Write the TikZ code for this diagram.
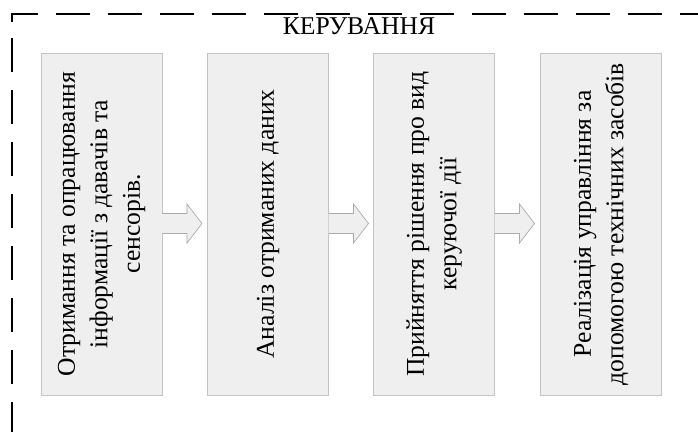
\documentclass[tikz,border=0pt]{standalone}
\usepackage{fontspec}
\setmainfont{Liberation Serif}
\usetikzlibrary{calc}

\definecolor{boxfill}{HTML}{EFEFEF}
\definecolor{boxline}{HTML}{C4C4C4}
\definecolor{boxshade}{HTML}{A6A6A6}
\definecolor{arrowline}{HTML}{ABABAB}

\tikzset{
  frameline/.style={line width=2pt, dash pattern=on 34pt off 18pt, black},
  stagebox/.style={rectangle, fill=boxfill, draw=boxline, line width=0.7pt,
    minimum width=121pt, minimum height=342pt, inner sep=0pt, outer sep=0pt},
  stagetext/.style={rotate=90, align=center, inner sep=0pt,
    font=\fontsize{25.6}{32.5}\selectfont},
  titletext/.style={font=\fontsize{25.6}{30}\selectfont, inner sep=0pt},
  arrowbody/.style={fill=boxfill},
  arrowedge/.style={draw=arrowline, line width=0.7pt, line join=miter},
}

% block arrow leaving the right side of a stage box
\newcommand{\stagearrow}[1]{%
  \fill[arrowbody] ($(#1.east)+(0,-10.5)$) -- ($(#1.east)+(25,-10.5)$)
    -- ($(#1.east)+(25,-20)$) -- ($(#1.east)+(40,-0.5)$)
    -- ($(#1.east)+(25,19)$) -- ($(#1.east)+(25,9.5)$)
    -- ($(#1.east)+(0,9.5)$) -- cycle;
  \draw[arrowedge] ($(#1.east)+(0,-10.5)$) -- ($(#1.east)+(25,-10.5)$)
    -- ($(#1.east)+(25,-20)$) -- ($(#1.east)+(40,-0.5)$)
    -- ($(#1.east)+(25,19)$) -- ($(#1.east)+(25,9.5)$)
    -- ($(#1.east)+(0,9.5)$);
}

\begin{document}
\begin{tikzpicture}[x=1pt, y=-1pt]
  \useasboundingbox (0,0) rectangle (698,431);
  \clip (0,0) rectangle (698,431);

  % outer dashed frame (only its top and left sides fall inside the page)
  \draw[frameline] (12,21.5) |- (720,13.5);
  \draw[frameline] (12,38) -- (12,460);

  \node[titletext, anchor=base] (title) at (359,34.5) {КЕРУВАННЯ};

  % stage boxes
  \foreach \name/\cx in {b1/101.5, b2/268, b3/434, b4/601} {
    \fill[boxshade] (\cx-60.5,394) rectangle (\cx+60.5,396);
    \node[stagebox] (\name) at (\cx,224) {};
  }

  \node[stagetext] (t1) at (b1.center) {Отримання та опрацювання\\інформації з давачів та\\сенсорів.};
  \node[stagetext] (t2) at (b2.center) {Аналіз отриманих даних};
  \node[stagetext] (t3) at (b3.center) {Прийняття рішення про вид\\керуючої дії};
  \node[stagetext] (t4) at (b4.center) {Реалізація управління за\\допомогою технічних засобів};

  % arrows between the stages
  \stagearrow{b1}
  \stagearrow{b2}
  \stagearrow{b3}
\end{tikzpicture}
\end{document}
